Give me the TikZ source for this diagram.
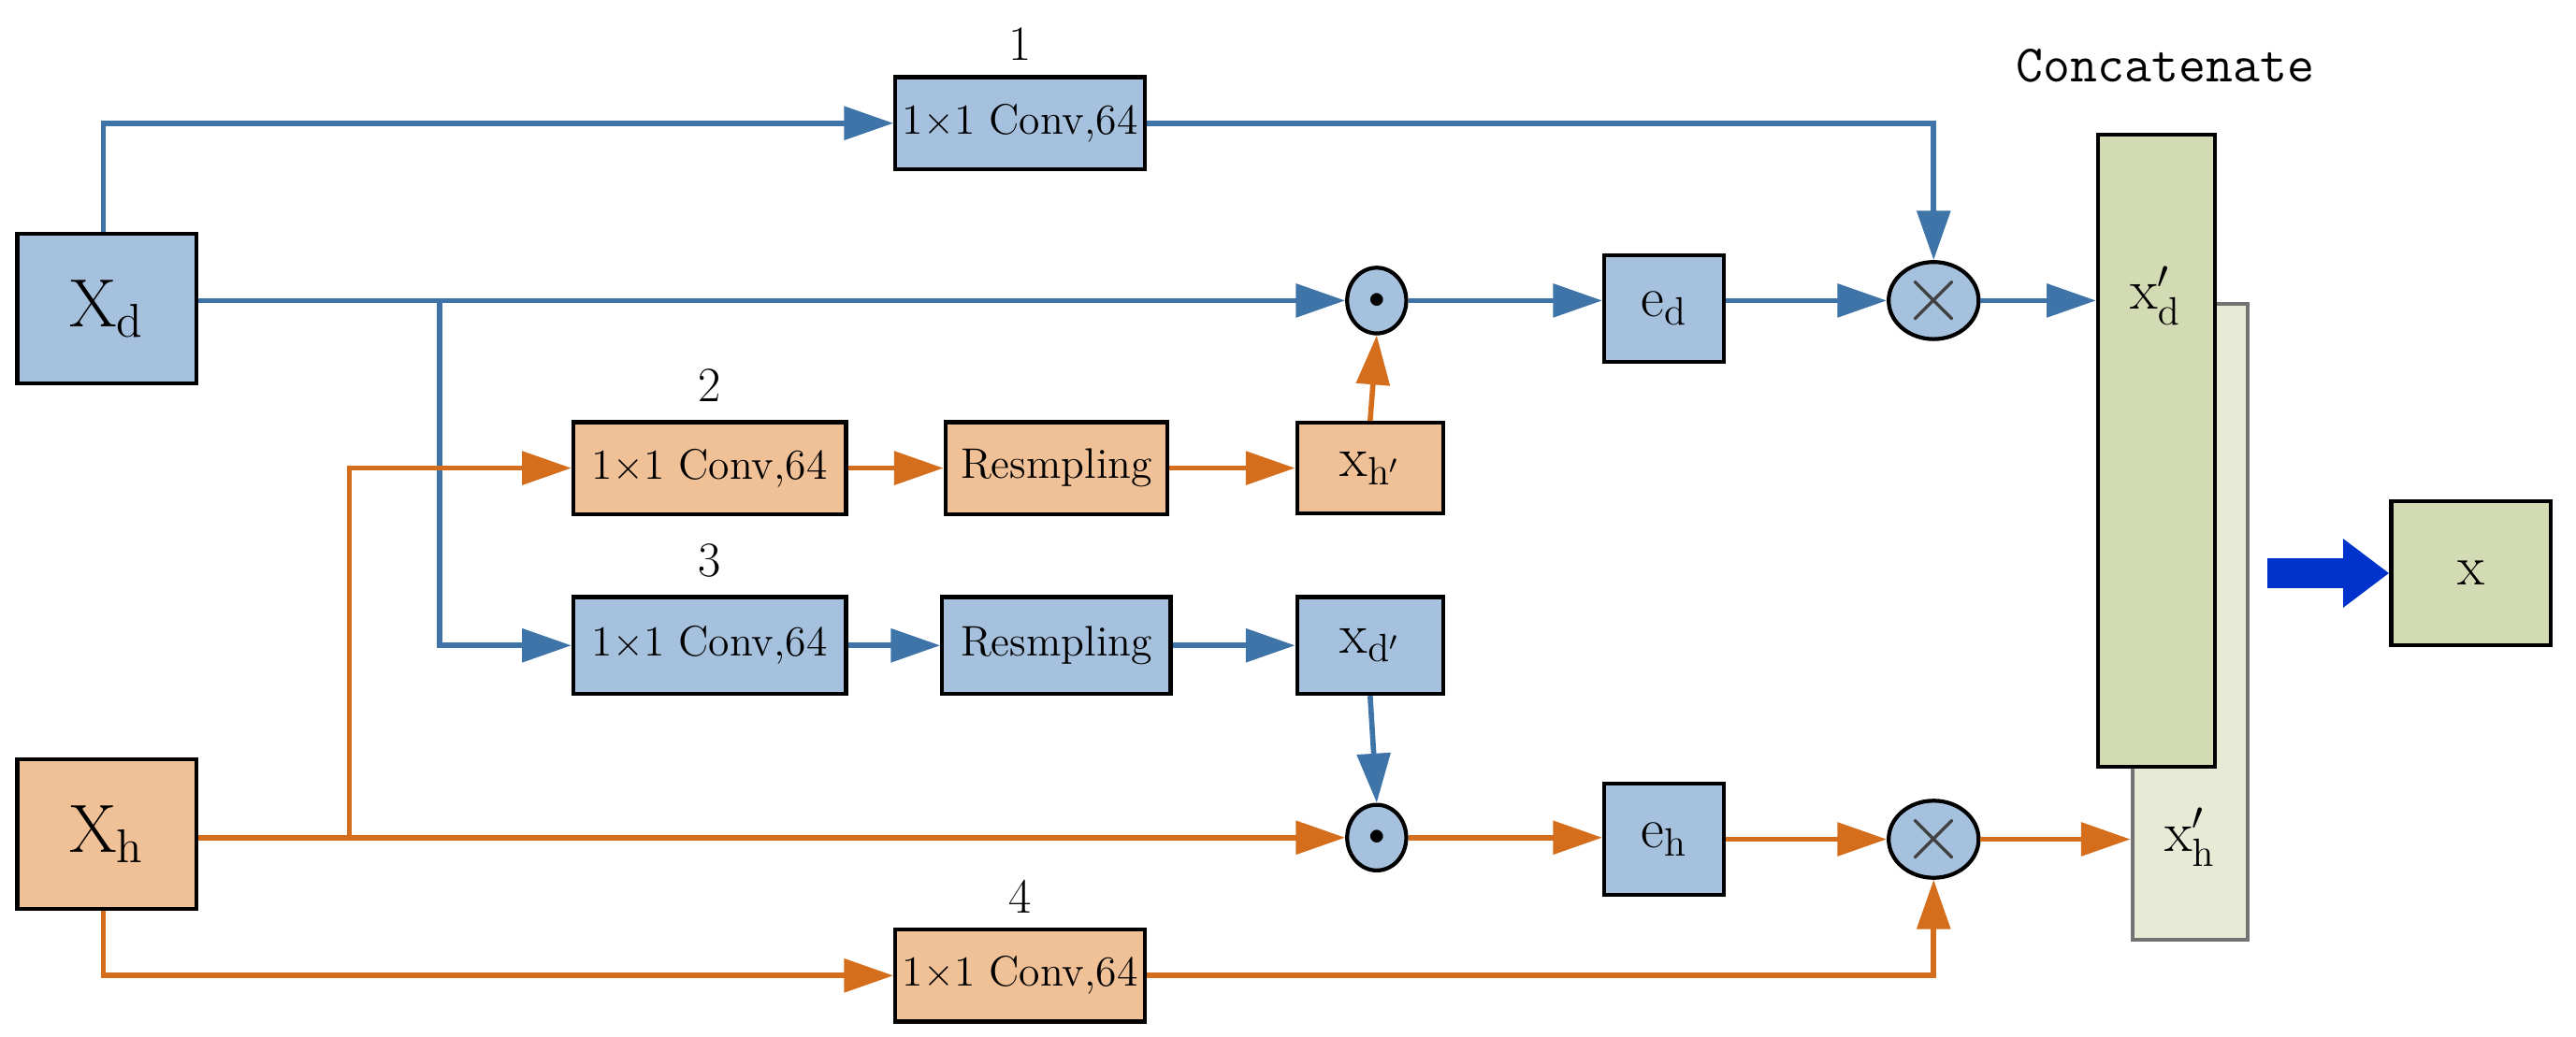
\documentclass[tikz,border=0pt]{standalone}
\usepackage{amsmath}
\usepackage{bm}
\usetikzlibrary{positioning}
\usetikzlibrary{arrows.meta}
\usetikzlibrary{shapes.geometric}
\definecolor{lblue}{HTML}{3F74A8}
\definecolor{lorange}{HTML}{D46E1D}
\definecolor{fblue}{HTML}{A5C1DD}
\definecolor{forange}{HTML}{F0C097}
\definecolor{fgreen}{HTML}{D3DBB4}
\definecolor{flight}{HTML}{E7EBD6}
\newdimen\pxu \pxu=0.017564cm
\tikzset{
  box/.style={draw=black, line width=1.2pt, inner sep=0pt},
  bbox/.style={box, fill=fblue},
  obox/.style={box, fill=forange},
  op/.style={ellipse, draw=black, line width=1.2pt, fill=fblue, minimum width=36\pxu, minimum height=40\pxu, inner sep=0pt},
  conv/.style={minimum width=152\pxu, minimum height=56\pxu, font=\fontsize{13}{15}\selectfont},
  bl/.style={draw=lblue, line width=1.6pt, -{Triangle[length=15pt,width=10pt]}},
  ol/.style={draw=lorange, line width=1.6pt, -{Triangle[length=15pt,width=10pt]}},
  num/.style={font=\fontsize{15}{17}\selectfont}
}
\begin{document}
\begin{tikzpicture}[x=\pxu, y=-\pxu]
    \useasboundingbox (0,0) rectangle (1568,631);
    % inputs
    \node[bbox, minimum width=109\pxu, minimum height=91\pxu, font=\fontsize{20}{22}\selectfont] (xd) at (65,188) {$\mathrm{X}_{\mathrm{d}}$};
    \node[obox, minimum width=109\pxu, minimum height=91\pxu, font=\fontsize{20}{22}\selectfont] (xh) at (65,508) {$\mathrm{X}_{\mathrm{h}}$};
    % convolutions
    \node[bbox, conv] (c1) at (621,75) {1$\times$1 Conv,64};
    \node[obox, conv, minimum width=166\pxu] (c2) at (432,285) {1$\times$1 Conv,64};
    \node[bbox, conv, minimum width=166\pxu, minimum height=59\pxu] (c3) at (432,393) {1$\times$1 Conv,64};
    \node[obox, conv] (c4) at (621,594) {1$\times$1 Conv,64};
    \node[num, above=2\pxu of c1] {1};
    \node[num, above=4\pxu of c2] {2};
    \node[num, above=4\pxu of c3] {3};
    \node[num, above=2\pxu of c4] {4};
    \node[obox, conv, minimum width=135\pxu] (r2) at (643,285) {Resmpling};
    \node[bbox, conv, minimum width=139\pxu, minimum height=59\pxu] (r3) at (643,393) {Resmpling};
    \node[obox, minimum width=89\pxu, minimum height=55\pxu, font=\fontsize{17}{19}\selectfont] (xhp) at (834,285) {$\mathrm{x}_{\mathrm{h}'}$};
    \node[bbox, minimum width=89\pxu, minimum height=59\pxu, font=\fontsize{17}{19}\selectfont] (xdp) at (834,393) {$\mathrm{x}_{\mathrm{d}'}$};
    % fusion
    \node[op] (dd) at (838,183) {$\bullet$};
    \node[op] (dh) at (838,510) {$\bullet$};
    \node[bbox, minimum width=73\pxu, minimum height=65\pxu, font=\fontsize{17}{19}\selectfont] (ed) at (1013,188) {$\mathrm{e}_{\mathrm{d}}$};
    \node[bbox, minimum width=73\pxu, minimum height=68\pxu, font=\fontsize{17}{19}\selectfont] (eh) at (1013,511) {$\mathrm{e}_{\mathrm{h}}$};
    \node[op, text=black!75, font=\fontsize{26}{26}\selectfont] (md) at (1177,183) {$\times$};
    \node[op, text=black!75, font=\fontsize{26}{26}\selectfont] (mh) at (1177,511) {$\times$};
    % concatenation
    \node[draw=black!55, line width=1.2pt, fill=flight, minimum width=70\pxu, minimum height=387\pxu] (bh) at (1333,378.5) {};
    \node[box, fill=fgreen, minimum width=71\pxu, minimum height=385\pxu] (bd) at (1312.5,274.5) {};
    \node[font=\fontsize{17}{19}\selectfont] at (1312,180) {$\mathrm{x}'_{\mathrm{d}}$};
    \node[font=\fontsize{17}{19}\selectfont] at (1333,510) {$\mathrm{x}'_{\mathrm{h}}$};
    \node[font=\ttfamily\fontsize{16}{18}\selectfont] at (1318,40) {Concatenate};
    \node[box, fill=fgreen, minimum width=97\pxu, minimum height=88\pxu, font=\fontsize{17}{19}\selectfont] (out) at (1504,349) {x};
    \coordinate (ba) at (1380,349);
    \draw[draw={rgb,255:red,0;green,51;blue,204}, line width=9pt, -{Triangle[length=14pt,width=20pt]}] (ba) -- (out.west);
    % blue paths
    \draw[bl] ([xshift=-2\pxu]xd.north) |- (c1.west);
    \draw[bl] (c1.east) -| (md.north);
    \draw[bl] (xd.east |- dd) -- (dd.west);
    \draw[bl] (xd.east |- dd) ++(147,0) |- (c3.west);
    \draw[bl] (c3.east) -- (r3.west);
    \draw[bl] (r3.east) -- (xdp.west);
    \draw[bl] (xdp.south) -- (dh.north);
    \draw[bl] (dd.east) -- (ed.west |- dd);
    \draw[bl] (ed.east |- md) -- (md.west);
    \draw[bl] (md.east) -- (bd.west |- md);
    % orange paths
    \draw[ol] (xh.east |- dh) -- (dh.west);
    \draw[ol] (xh.east |- dh) ++(92,0) |- (c2.west);
    \draw[ol] (c2.east) -- (r2.west);
    \draw[ol] (r2.east) -- (xhp.west);
    \draw[ol] (xhp.north) -- (dd.south);
    \draw[ol] (dh.east) -- (eh.west |- dh);
    \draw[ol] (eh.east |- mh) -- (mh.west);
    \draw[ol] (mh.east) -- (bh.west |- mh);
    \draw[ol] ([xshift=-2\pxu]xh.south) |- (c4.west);
    \draw[ol] (c4.east) -| (mh.south);
\end{tikzpicture}
\end{document}
